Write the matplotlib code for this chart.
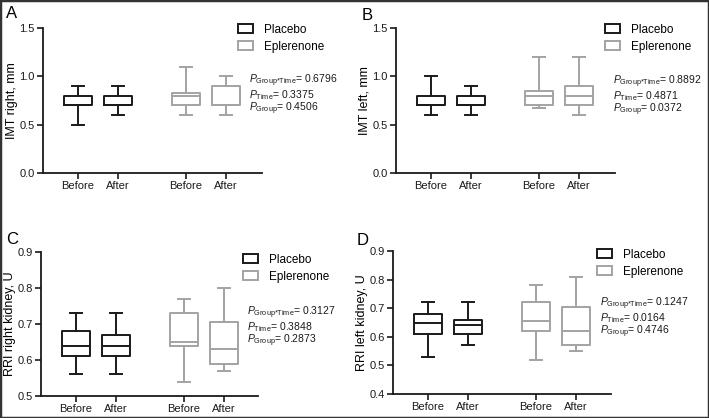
import matplotlib
matplotlib.use("Agg")
import matplotlib.pyplot as plt
from matplotlib.patches import Rectangle, Patch

plt.rcParams['font.family'] = ['Liberation Sans', 'DejaVu Sans']
plt.rcParams['mathtext.fontset'] = 'custom'
plt.rcParams['mathtext.rm'] = 'Liberation Sans'
plt.rcParams['mathtext.it'] = 'Liberation Sans:italic'

# ---- data ----
tick_labels = ["Before", "After", "Before", "After"]
groups = ["Placebo", "Placebo", "Eplerenone", "Eplerenone"]

# each: [whislo, q1, med, q3, whishi] for Before/After Placebo, Before/After Eplerenone
imt_right = [[0.50, 0.70, 0.70, 0.80, 0.90],
             [0.60, 0.70, 0.70, 0.80, 0.90],
             [0.60, 0.70, 0.80, 0.83, 1.10],
             [0.60, 0.70, 0.70, 0.90, 1.00]]
imt_left = [[0.60, 0.70, 0.70, 0.80, 1.00],
            [0.60, 0.70, 0.70, 0.80, 0.90],
            [0.67, 0.70, 0.80, 0.85, 1.20],
            [0.60, 0.70, 0.80, 0.90, 1.20]]
rri_right = [[0.56, 0.61, 0.64, 0.68, 0.73],
             [0.56, 0.61, 0.64, 0.67, 0.73],
             [0.54, 0.64, 0.65, 0.73, 0.77],
             [0.57, 0.59, 0.63, 0.705, 0.80]]
rri_left = [[0.53, 0.61, 0.65, 0.68, 0.72],
            [0.57, 0.61, 0.64, 0.66, 0.72],
            [0.52, 0.62, 0.655, 0.722, 0.78],
            [0.55, 0.572, 0.62, 0.705, 0.81]]

p_imt_right = ["0.6796", "0.3375", "0.4506"]
p_imt_left = ["0.8892", "0.4871", "0.0372"]
p_rri_right = ["0.3127", "0.3848", "0.2873"]
p_rri_left = ["0.1247", "0.0164", "0.4746"]

panels = [
    dict(letter="A", data=imt_right, ylabel="IMT right, mm", ylim=(0, 1.5),
         yticks=[0.0, 0.5, 1.0, 1.5], pvals=p_imt_right,
         ax_px=(43, 262, 28, 173), letter_px=(6, 13), leg_px=(238, 24), p_px=(249, 81)),
    dict(letter="B", data=imt_left, ylabel="IMT left, mm", ylim=(0, 1.5),
         yticks=[0.0, 0.5, 1.0, 1.5], pvals=p_imt_left,
         ax_px=(396, 615, 28, 173), letter_px=(362, 15), leg_px=(605, 24), p_px=(613, 82)),
    dict(letter="C", data=rri_right, ylabel="RRI right kidney, U", ylim=(0.5, 0.9),
         yticks=[0.5, 0.6, 0.7, 0.8, 0.9], pvals=p_rri_right,
         ax_px=(41, 258, 252, 396), letter_px=(6, 240), leg_px=(243, 254), p_px=(247, 313)),
    dict(letter="D", data=rri_left, ylabel="RRI left kidney, U", ylim=(0.4, 0.9),
         yticks=[0.4, 0.5, 0.6, 0.7, 0.8, 0.9], pvals=p_rri_left,
         ax_px=(393, 611, 251, 394), letter_px=(357, 241), leg_px=(597, 249), p_px=(600, 304)),
]

W, H = 709, 418
fig = plt.figure(figsize=(W / 100, H / 100), dpi=100)

colors = {"Placebo": "#1a1a1a", "Eplerenone": "#a3a3a3"}
positions = [1.0, 2.0, 3.7, 4.7]
lw = 1.4

for p in panels:
    l, r, t, b = p["ax_px"]
    ax = fig.add_axes([l / W, (H - b) / H, (r - l) / W, (b - t) / H])
    for i, vals in enumerate(p["data"]):
        st = dict(whislo=vals[0], q1=vals[1], med=vals[2], q3=vals[3], whishi=vals[4], fliers=[])
        c = colors[groups[i]]
        ax.bxp([st], positions=[positions[i]], widths=0.7, capwidths=0.28, showfliers=False,
               boxprops=dict(color=c, linewidth=lw),
               whiskerprops=dict(color=c, linewidth=lw),
               capprops=dict(color=c, linewidth=lw),
               medianprops=dict(color=c, linewidth=lw))
    ax.set_xlim(1 - 35 / 40, 1 + (r - l - 35) / 40)
    ax.set_ylim(*p["ylim"])
    ax.set_yticks(p["yticks"])
    ax.set_yticklabels([f"{v:.1f}" for v in p["yticks"]])
    ax.set_xticks(positions)
    ax.set_xticklabels(tick_labels)
    for s in ["top", "right"]:
        ax.spines[s].set_visible(False)
    for s in ["left", "bottom"]:
        ax.spines[s].set_linewidth(1.3)
        ax.spines[s].set_color("#1a1a1a")
    ax.tick_params(axis="both", labelsize=8, length=4, width=1.2, colors="#1a1a1a", pad=2)
    ax.set_ylabel(p["ylabel"], fontsize=9, labelpad=1)
    ax.patch.set_alpha(0)

    lx, ly = p["letter_px"]
    fig.text(lx / W, 1 - ly / H, p["letter"], fontsize=12, va="center", ha="left")

    handles = [Patch(facecolor="white", edgecolor=colors["Placebo"], linewidth=1.4, label="Placebo"),
               Patch(facecolor="white", edgecolor=colors["Eplerenone"], linewidth=1.4, label="Eplerenone")]
    gx, gy = p["leg_px"]
    ax.legend(handles=handles, loc="upper left", bbox_to_anchor=(gx / W, 1 - gy / H),
              bbox_transform=fig.transFigure, frameon=False, fontsize=8.5,
              handlelength=1.3, handleheight=0.8, handletextpad=0.9, labelspacing=0.4,
              borderpad=0, borderaxespad=0)

    px, py = p["p_px"]
    subs = [r"\mathrm{Group{*}Time}", r"\mathrm{Time}", r"\mathrm{Group}"]
    for k, (sub, val) in enumerate(zip(subs, p["pvals"])):
        fig.text(px / W, 1 - (py + 14 * k) / H, rf"$\mathit{{P}}_{{{sub}}}$= {val}",
                 fontsize=7.5, va="center", ha="left", color="#1a1a1a")

fig.patches.append(Rectangle((0, 0), 1, 1, transform=fig.transFigure, fill=False,
                             edgecolor="#333333", linewidth=2.5, zorder=10))

fig.savefig("out.png", dpi=100)
